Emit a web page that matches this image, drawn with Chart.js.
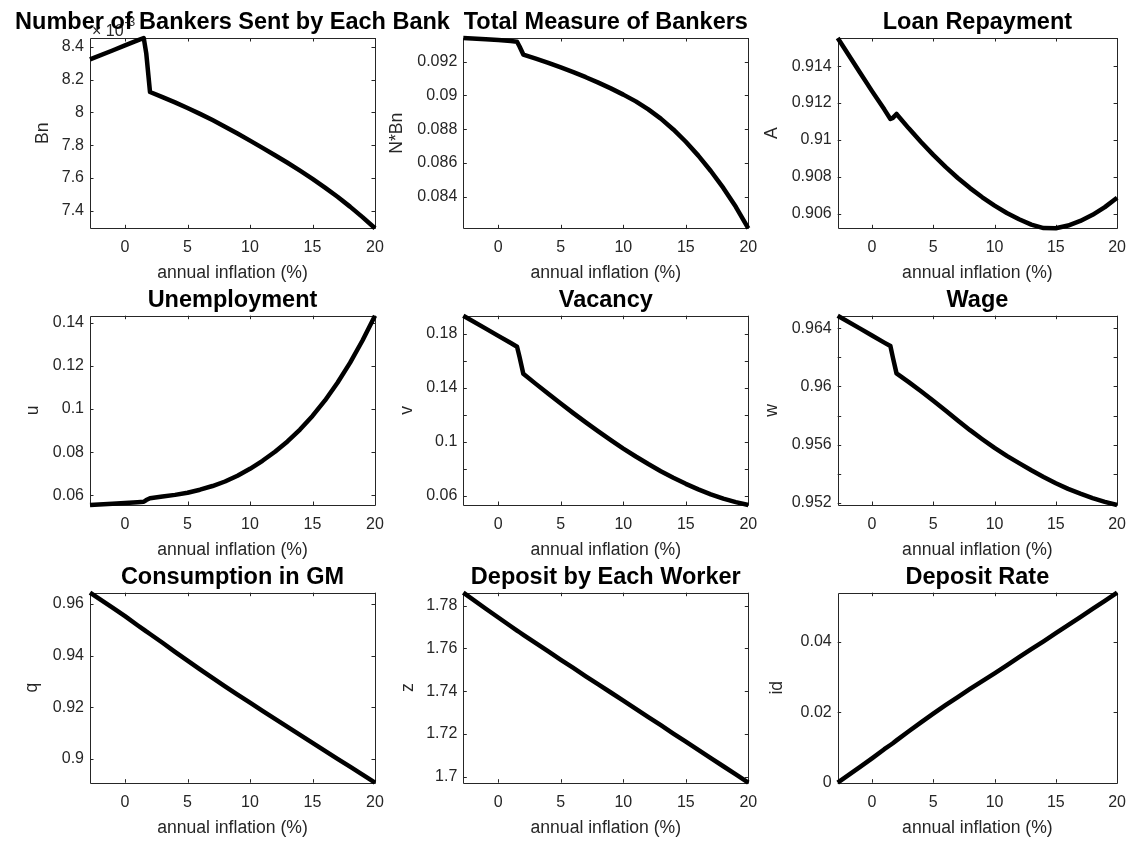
<!DOCTYPE html>
<html><head><meta charset="utf-8">
<script src="https://cdn.jsdelivr.net/npm/chart.js@4.4.1/dist/chart.umd.min.js"></script>
<style>
html,body{margin:0;padding:0;background:#fff;}
#wrap{position:relative;width:1136px;height:841px;overflow:hidden;background:#fff;}
#wrap canvas{position:absolute;left:0;top:0;}
</style></head><body><div id="wrap"></div>
<script>
// ---------- data ----------
const inflation = [-2.8,-1,0,1,1.5,1.7,2,3,4,5,6,7,8,9,10,11,12,13,14,15,16,17,18,19,20];

const bankersPerBank = [0.008323,0.008377,0.008408,0.008438,0.008453,0.00836,0.008124,0.008093,0.008061,0.008027,0.007991,0.007953,0.007913,0.007871,0.007828,0.007784,0.007739,0.007693,0.007645,0.007595,0.007542,0.007486,0.007426,0.007362,0.007294];
const totalBankers   = [0.0934,0.09333,0.09328,0.09322,0.09318,0.0929,0.09242,0.09218,0.09193,0.09166,0.09138,0.09108,0.09076,0.09042,0.09005,0.08965,0.08918,0.08863,0.08799,0.08726,0.08644,0.08553,0.08453,0.08341,0.08214];
const loanRepayment  = [0.91553,0.91367,0.91265,0.91166,0.91114,0.9112,0.91141,0.91063,0.90989,0.90919,0.90854,0.90794,0.90739,0.90689,0.90644,0.90604,0.9057,0.90541,0.90522,0.90521,0.90536,0.90561,0.90594,0.90636,0.90687];
const unemployment   = [0.0555,0.0561,0.0564,0.0568,0.057,0.0578,0.0586,0.0594,0.0602,0.0612,0.0626,0.0643,0.0664,0.0691,0.0723,0.076,0.0802,0.085,0.0905,0.0968,0.104,0.1122,0.1214,0.1318,0.1433];
const vacancy        = [0.1936,0.184,0.1786,0.1733,0.1706,0.163,0.1505,0.143,0.1356,0.1284,0.1213,0.1144,0.1077,0.1012,0.095,0.0891,0.0835,0.0782,0.0733,0.0688,0.0647,0.061,0.0578,0.0552,0.0531];
const wage           = [0.96487,0.964,0.96351,0.96302,0.96278,0.962,0.9609,0.9603,0.95967,0.95902,0.95834,0.95765,0.95699,0.95637,0.95577,0.95522,0.95472,0.95423,0.95377,0.95334,0.95295,0.95262,0.95232,0.95206,0.95184];
const consumptionGM  = [0.9644,0.9586,0.9553,0.9518,0.9501,0.9494,0.9484,0.945,0.9415,0.9381,0.9347,0.9314,0.9281,0.9249,0.9218,0.9186,0.9155,0.9124,0.9093,0.9062,0.9031,0.9,0.897,0.8939,0.8908];
const depositWorker  = [1.7861,1.7786,1.7745,1.7704,1.7684,1.7676,1.7664,1.7625,1.7586,1.7547,1.7509,1.747,1.7432,1.7394,1.7356,1.7317,1.7279,1.7241,1.7202,1.7164,1.7126,1.7087,1.7049,1.7011,1.6972];
const depositRate    = [0,0.0044,0.0069,0.0095,0.0107,0.0112,0.012,0.0146,0.0171,0.0196,0.022,0.0243,0.0266,0.0288,0.031,0.0333,0.0356,0.0379,0.0401,0.0424,0.0447,0.047,0.0493,0.0516,0.0539];

const titles = ["Number of Bankers Sent by Each Bank","Total Measure of Bankers","Loan Repayment",
                "Unemployment","Vacancy","Wage",
                "Consumption in GM","Deposit by Each Worker","Deposit Rate"];
const yLabels = ["Bn","N*Bn","A","u","v","w","q","z","id"];
const xLabel = "annual inflation (%)";
const xTicks = [0,5,10,15,20];
const xTickLabels = ["0","5","10","15","20"];

const bnTicks = [0.0074,0.0076,0.0078,0.008,0.0082,0.0084];
const bnTickLabels = ["7.4","7.6","7.8","8","8.2","8.4"];
const nbnTicks = [0.084,0.086,0.088,0.09,0.092];
const nbnTickLabels = ["0.084","0.086","0.088","0.09","0.092"];
const aTicks = [0.906,0.908,0.91,0.912,0.914];
const aTickLabels = ["0.906","0.908","0.91","0.912","0.914"];
const uTicks = [0.06,0.08,0.1,0.12,0.14];
const uTickLabels = ["0.06","0.08","0.1","0.12","0.14"];
const vTicks = [0.06,0.08,0.1,0.12,0.14,0.16,0.18];
const vTickLabels = ["0.06","","0.1","","0.14","","0.18"];
const wTicks = [0.952,0.954,0.956,0.958,0.96,0.962,0.964];
const wTickLabels = ["0.952","","0.956","","0.96","","0.964"];
const qTicks = [0.9,0.92,0.94,0.96];
const qTickLabels = ["0.9","0.92","0.94","0.96"];
const zTicks = [1.7,1.72,1.74,1.76,1.78];
const zTickLabels = ["1.7","1.72","1.74","1.76","1.78"];
const idTicks = [0,0.02,0.04];
const idTickLabels = ["0","0.02","0.04"];

const seriesList = [bankersPerBank,totalBankers,loanRepayment,unemployment,vacancy,wage,consumptionGM,depositWorker,depositRate];
const tickList = [bnTicks,nbnTicks,aTicks,uTicks,vTicks,wTicks,qTicks,zTicks,idTicks];
const tickLabelList = [bnTickLabels,nbnTickLabels,aTickLabels,uTickLabels,vTickLabels,wTickLabels,qTickLabels,zTickLabels,idTickLabels];

// ---------- layout ----------
const W = 1136, H = 841;
const colLeft = [90, 463.3, 837.7];
const colRight = [375, 748.3, 1121.5];
const rowTop = [38, 315.7, 592.7];
const rowBottom = [228.3, 505, 782.7];
const yTitleCenter = [43, 396.7, 771.7, 33.3, 407.3, 771.7, 31.7, 408.3, 776.7];
const Y_AXIS_W = 90, X_AXIS_H = 60;
const FONT = "'Liberation Sans', Arial, Helvetica, sans-serif";
const TICK_SIZE = 16, LABEL_SIZE = 17.6, TITLE_SIZE = 23.5;
const AX_COLOR = '#262626';

Chart.defaults.font.family = FONT;
Chart.defaults.color = AX_COLOR;

const boxPlugin = {
  id: 'matlabBox',
  beforeDatasetsDraw(chart) {
    const {ctx, chartArea: a, scales: {x, y}} = chart;
    ctx.save();
    ctx.strokeStyle = AX_COLOR;
    ctx.lineWidth = 1;
    ctx.beginPath();
    ctx.rect(Math.round(a.left)+0.5, Math.round(a.top)+0.5, Math.round(a.right)-Math.round(a.left), Math.round(a.bottom)-Math.round(a.top));
    ctx.stroke();
    const tl = 3.5;
    ctx.beginPath();
    x.ticks.forEach(t => {
      const px = Math.round(x.getPixelForValue(t.value)) + 0.5;
      ctx.moveTo(px, a.bottom); ctx.lineTo(px, a.bottom - tl);
      ctx.moveTo(px, a.top); ctx.lineTo(px, a.top + tl);
    });
    y.ticks.forEach(t => {
      const py = Math.round(y.getPixelForValue(t.value)) + 0.5;
      ctx.moveTo(a.left, py); ctx.lineTo(a.left + tl, py);
      ctx.moveTo(a.right, py); ctx.lineTo(a.right - tl, py);
    });
    ctx.stroke();
    ctx.restore();
  },
  afterDraw(chart) {
    const o = chart.options.plugins.matlabBox;
    const {ctx, chartArea: a} = chart;
    ctx.save();
    if (o.exponent) {
      ctx.fillStyle = AX_COLOR;
      ctx.textAlign = 'left';
      ctx.textBaseline = 'alphabetic';
      ctx.font = `16px ${FONT}`;
      ctx.fillText('\u00d7 10', a.left + 2, a.top - 2);
      const w = ctx.measureText('\u00d7 10').width;
      ctx.font = `12px ${FONT}`;
      ctx.fillText('-3', a.left + 2 + w + 1, a.top - 12);
    }
    ctx.fillStyle = '#000';
    ctx.textAlign = 'center';
    ctx.textBaseline = 'alphabetic';
    ctx.font = `bold ${TITLE_SIZE}px ${FONT}`;
    ctx.fillText(o.title, (a.left + a.right) / 2, a.top - 9);
    ctx.restore();
  }
};

const wrap = document.getElementById('wrap');
for (let i = 0; i < 9; i++) {
  const r = Math.floor(i / 3), c = i % 3;
  const L = colLeft[c], R = colRight[c], T = rowTop[r], B = rowBottom[r];
  const cv = document.createElement('canvas');
  cv.width = W; cv.height = H;
  cv.style.width = W + 'px'; cv.style.height = H + 'px';
  wrap.appendChild(cv);
  const vals = seriesList[i];
  const yt = tickList[i], ytl = tickLabelList[i];
  const padLeft = L - Y_AXIS_W;
  const yTitlePad = yTitleCenter[i] - padLeft - LABEL_SIZE / 2;
  new Chart(cv, {
    type: 'line',
    data: {
      datasets: [{
        data: inflation.map((xv, k) => ({x: xv, y: vals[k]})),
        borderColor: '#000',
        borderWidth: 4.5,
        pointRadius: 0,
        tension: 0,
        borderJoinStyle: 'round',
        clip: false
      }]
    },
    options: {
      responsive: false,
      animation: false,
      events: [],
      layout: {padding: {left: padLeft, top: T, right: W - R, bottom: H - B - X_AXIS_H}},
      plugins: {
        legend: {display: false},
        tooltip: {enabled: false},
        matlabBox: {title: titles[i], exponent: i === 0}
      },
      scales: {
        x: {
          type: 'linear',
          min: inflation[0],
          max: inflation[inflation.length - 1],
          grid: {display: false, drawTicks: false},
          border: {display: false},
          afterBuildTicks: s => { s.ticks = xTicks.map(v => ({value: v})); },
          afterFit: s => { s.height = X_AXIS_H; },
          ticks: {
            font: {size: TICK_SIZE},
            color: AX_COLOR,
            padding: 10,
            maxRotation: 0,
            autoSkip: false,
            callback: (v, idx) => xTickLabels[idx]
          },
          title: {
            display: true, text: xLabel, color: AX_COLOR,
            font: {size: LABEL_SIZE, lineHeight: 1},
            padding: {top: 0, bottom: 6}
          }
        },
        y: {
          type: 'linear',
          min: Math.min(...vals),
          max: Math.max(...vals),
          grid: {display: false, drawTicks: false},
          border: {display: false},
          afterBuildTicks: s => { s.ticks = yt.map(v => ({value: v})); },
          afterFit: s => { s.width = Y_AXIS_W; },
          ticks: {
            font: {size: TICK_SIZE},
            color: AX_COLOR,
            padding: 6,
            autoSkip: false,
            callback: (v, idx) => ytl[idx]
          },
          title: {
            display: true, text: yLabels[i], color: AX_COLOR,
            font: {size: LABEL_SIZE, lineHeight: 1},
            padding: {top: yTitlePad, bottom: 0}
          }
        }
      }
    },
    plugins: [boxPlugin]
  });
}
</script>
</body></html>
